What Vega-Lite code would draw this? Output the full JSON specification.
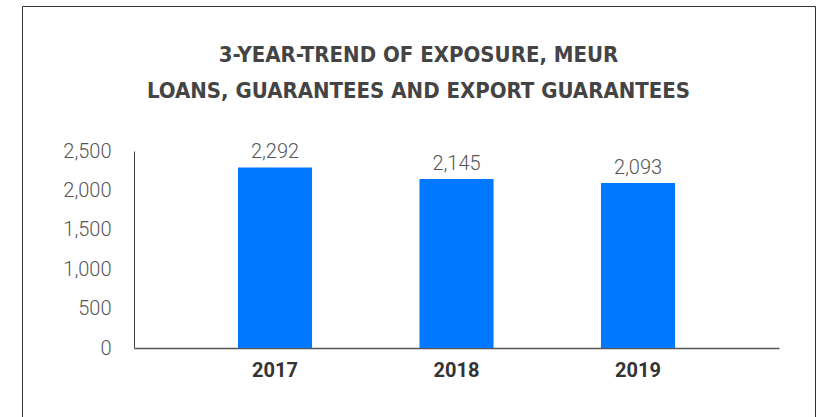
{
  "$schema": "https://vega.github.io/schema/vega-lite/v6.json",
  "width": 793,
  "height": 424,
  "autosize": {"type": "none"},
  "padding": {"left": 22, "top": 6, "right": 5, "bottom": 0},
  "background": "white",
  "title": {
    "text": ["3-YEAR-TREND OF EXPOSURE, MEUR", "LOANS, GUARANTEES AND EXPORT GUARANTEES"],
    "font": "DejaVu Sans Condensed",
    "fontSize": 22,
    "fontWeight": "bold",
    "color": "#444444",
    "anchor": "middle",
    "frame": "group",
    "baseline": "top",
    "lineHeight": 36,
    "offset": -97
  },
  "data": {
    "values": [
      {"year": "2017", "value": 2292},
      {"year": "2018", "value": 2145},
      {"year": "2019", "value": 2093}
    ]
  },
  "encoding": {
    "x": {
      "field": "year",
      "type": "ordinal",
      "scale": {"range": [112, 757], "paddingInner": 0.592, "paddingOuter": 0.573},
      "axis": {
        "title": null,
        "labelAngle": 0,
        "labelFont": "Roboto",
        "labelFontWeight": "bold",
        "labelFontSize": 20,
        "labelColor": "#333333",
        "labelPadding": 12,
        "ticks": false,
        "grid": false,
        "domainColor": "#555555",
        "domainWidth": 1.5,
        "offset": -82
      }
    },
    "y": {
      "field": "value",
      "type": "quantitative",
      "scale": {"domain": [0, 2500], "range": [342, 145], "nice": false},
      "axis": {
        "title": null,
        "values": [0, 500, 1000, 1500, 2000, 2500],
        "format": ",.0f",
        "labelFont": "Roboto",
        "labelFontWeight": 300,
        "labelFontSize": 20,
        "labelColor": "#555555",
        "labelPadding": 23,
        "ticks": false,
        "grid": false,
        "domainColor": "#444444",
        "offset": -112
      }
    }
  },
  "layer": [
    {"mark": {"type": "bar", "color": "#0078FF"}},
    {
      "mark": {"type": "text", "baseline": "alphabetic", "dy": -9, "font": "Roboto", "fontWeight": 300, "fontSize": 20, "color": "#555555"},
      "encoding": {"text": {"field": "value", "type": "quantitative", "format": ",.0f"}}
    }
  ],
  "config": {"view": {"stroke": "#333333", "strokeWidth": 1}}
}
